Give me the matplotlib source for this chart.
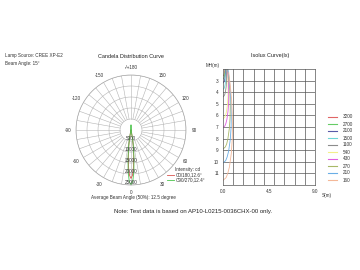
import numpy as np
import matplotlib
matplotlib.use('Agg')
import matplotlib.pyplot as plt
from matplotlib.lines import Line2D

plt.rcParams['font.family'] = ['Liberation Sans', 'DejaVu Sans']

# candela distribution (deg, cd)
polar_angles = [-180, -170, -150, -120, -90, -60, -30, -20, -15, -10, -8, -6, -4, -2, 0,
                2, 4, 6, 8, 10, 15, 20, 30, 60, 90, 120, 150, 170, 180]
cd_c0 = [0, 0, 0, 0, 0, 0, 0, 100, 450, 3800, 7200, 11700, 16600, 20500, 22000,
         20500, 16600, 11700, 7200, 3800, 450, 100, 0, 0, 0, 0, 0, 0, 0]
cd_c90 = [2200, 0, 0, 0, 0, 0, 0, 100, 430, 4100, 7900, 13000, 18700, 23300, 25000,
          23300, 18700, 13000, 7900, 4100, 430, 100, 0, 0, 0, 0, 0, 0, 2200]
ring_values = [5000, 10000, 15000, 20000, 25000]
angle_labels = [0, 30, 60, 90, 120, 150, 180, -150, -120, -90, -60, -30]

# isolux curves: depth MH(m) and spread S(m) for each level
lux_levels = [3200, 2700, 2100, 1500, 1100, 540, 430, 270, 210, 160]
lux_colors = ['#e06666', '#66cc66', '#5a5aa8', '#6fd6d6', '#8c8c8c',
              '#f2f08a', '#e060e0', '#a8b868', '#6aaee6', '#f4b898']
iso_depth = [
    [1.56, 1.82, 2.08, 2.34, 2.47, 2.55, 2.6],
    [1.71, 2.0, 2.28, 2.57, 2.71, 2.79, 2.85],
    [1.6, 1.92, 2.24, 2.56, 2.88, 3.04, 3.14, 3.2],
    [1.5, 1.88, 2.25, 2.63, 3.0, 3.38, 3.56, 3.68, 3.75],
    [1.76, 2.2, 2.64, 3.08, 3.52, 3.96, 4.18, 4.31, 4.4],
    [1.89, 2.52, 3.15, 3.78, 4.41, 5.04, 5.67, 5.99, 6.17, 6.3],
    [1.41, 2.12, 2.82, 3.53, 4.23, 4.94, 5.64, 6.35, 6.7, 6.91, 7.05],
    [1.78, 2.67, 3.56, 4.45, 5.34, 6.23, 7.12, 8.01, 8.46, 8.72, 8.9],
    [2.02, 3.03, 4.04, 5.05, 6.06, 7.07, 8.08, 9.09, 9.6, 9.9, 10.1],
    [2.32, 3.48, 4.64, 5.8, 6.96, 8.12, 9.28, 10.44, 11.02, 11.37, 11.6],
]
iso_spread = [
    [0.21, 0.20, 0.18, 0.14, 0.10, 0.07, 0.0],
    [0.23, 0.22, 0.20, 0.15, 0.11, 0.07, 0.0],
    [0.25, 0.26, 0.25, 0.22, 0.17, 0.13, 0.08, 0.0],
    [0.27, 0.29, 0.30, 0.29, 0.26, 0.20, 0.15, 0.10, 0.0],
    [0.32, 0.34, 0.35, 0.34, 0.31, 0.24, 0.18, 0.11, 0.0],
    [0.39, 0.45, 0.49, 0.50, 0.49, 0.44, 0.34, 0.25, 0.16, 0.0],
    [0.34, 0.44, 0.51, 0.55, 0.56, 0.55, 0.49, 0.38, 0.28, 0.18, 0.0],
    [0.43, 0.55, 0.64, 0.69, 0.71, 0.69, 0.62, 0.48, 0.36, 0.23, 0.0],
    [0.48, 0.63, 0.73, 0.79, 0.81, 0.79, 0.71, 0.55, 0.40, 0.26, 0.0],
    [0.56, 0.72, 0.84, 0.90, 0.93, 0.90, 0.81, 0.63, 0.46, 0.30, 0.0],
]

W, H = 360, 270
def fx(x): return x / W
def fy(y): return 1 - y / H

fig = plt.figure(figsize=(3.6, 2.7), dpi=100)
fig.patch.set_facecolor('white')
small = 3.3
txt = '#333333'

fig.text(fx(5), fy(56), 'Lamp Source: CREE XP-E2', fontsize=small, color=txt, va='center')
fig.text(fx(5), fy(63), 'Beam Angle: 15°', fontsize=small, color=txt, va='center')

# ---- candela polar plot
ax = fig.add_axes([fx(76), fy(185), 110 / W, 110 / H], projection='polar')
ax.set_theta_zero_location('S')
ax.set_theta_direction(1)
ax.set_ylim(0, 25000)
ax.grid(False)
ax.set_xticks([])
ax.set_yticks([])
ax.spines['polar'].set_color('#a8a8a8')
ax.spines['polar'].set_linewidth(0.5)
gc = '#b4b4b4'
full = np.linspace(0, 2 * np.pi, 200)
for r in ring_values:
    ax.plot(full, np.full_like(full, r), color=gc, lw=0.4)
for a in range(0, 360, 10):
    t = np.radians(a)
    ax.plot([t, t], [ring_values[0], ring_values[-1]], color=gc, lw=0.4)
ax.plot(np.radians(polar_angles), cd_c0, color='#d9534f', lw=0.6)
ax.plot(np.radians(polar_angles), cd_c90, color='#4cc44c', lw=0.6)
for r in ring_values:
    ax.text(0, r, str(r), fontsize=small, color=txt, ha='center', va='bottom')
for a in angle_labels:
    lab = '-/+180' if a == 180 else str(a)
    ax.text(np.radians(a), 28600, lab, fontsize=small, color=txt,
            ha='center', va='center', clip_on=False)

fig.text(fx(131), fy(56), 'Candela Distribution Curve', fontsize=4.0, color='#222222',
         ha='center', va='center')
fig.text(fx(175), fy(169), 'Intensity: cd', fontsize=small, color=txt, va='center')
fig.add_artist(Line2D([fx(167), fx(174)], [fy(174.5), fy(174.5)], color='#d9534f', lw=0.6))
fig.text(fx(176), fy(174.5), 'C0/180,12.6°', fontsize=small, color=txt, va='center')
fig.add_artist(Line2D([fx(167), fx(174)], [fy(180), fy(180)], color='#4cc44c', lw=0.6))
fig.text(fx(176), fy(180), 'C90/270,12.4°', fontsize=small, color=txt, va='center')
fig.text(fx(133), fy(198), 'Average Beam Angle (50%): 12.5 degree', fontsize=small,
         color=txt, ha='center', va='center')

# ---- isolux plot
bx = fig.add_axes([fx(223), fy(185), 92 / W, 116 / H])
for h, s, c in zip(iso_depth, iso_spread, lux_colors):
    bx.plot(s, h, color=c, lw=0.6)
bx.set_xlim(0, 9)
bx.set_ylim(12, 2)
bx.set_xticks([0, 4.5, 9])
bx.set_xticklabels(['0.0', '4.5', '9.0'])
bx.set_xticks(np.arange(0, 10, 1), minor=True)
bx.set_yticks(range(3, 12))
bx.tick_params(which='both', length=0, labelsize=small, labelcolor=txt, pad=3)
bx.grid(which='minor', axis='x', color='#555555', lw=0.5)
bx.grid(which='major', axis='y', color='#555555', lw=0.5)
for sp in bx.spines.values():
    sp.set_color('#555555')
    sp.set_linewidth(0.5)
fig.text(fx(213), fy(65), 'MH(m)', fontsize=small, color=txt, ha='center', va='center')
fig.text(fx(327), fy(195), 'S(m)', fontsize=small, color=txt, ha='center', va='center')
fig.text(fx(270), fy(56), 'Isolux Curve(lx)', fontsize=4.0, color='#222222',
         ha='center', va='center')

for i, (lvl, c) in enumerate(zip(lux_levels, lux_colors)):
    y = 117 + 7 * i
    fig.add_artist(Line2D([fx(328), fx(337)], [fy(y), fy(y)], color=c, lw=0.8))
    fig.text(fx(343), fy(y), str(lvl), fontsize=small, color=txt, va='center')

fig.text(fx(193), fy(212), 'Note: Test data is based on AP10-L0215-0036CHX-00 only.',
         fontsize=4.3, color='#222222', ha='center', va='center')

fig.savefig('out.png', dpi=100)
